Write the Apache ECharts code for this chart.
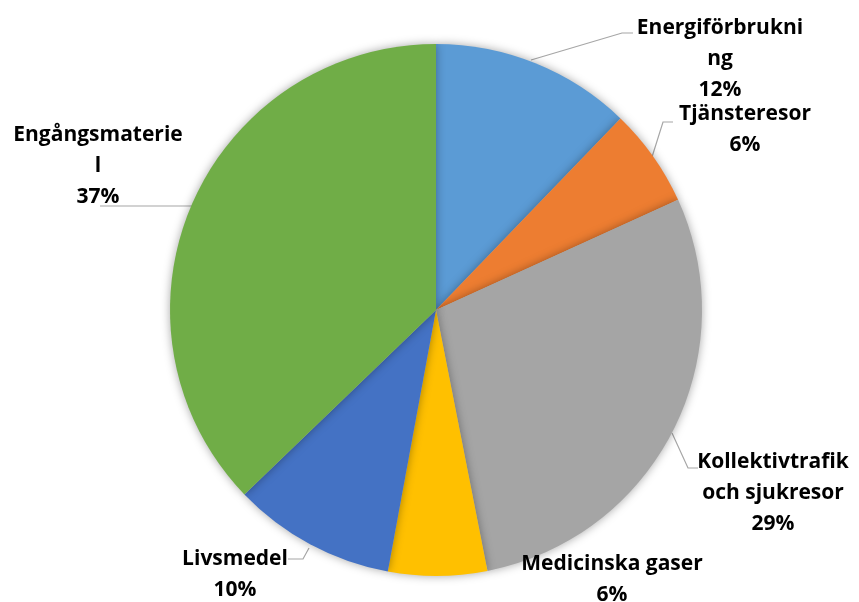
<!DOCTYPE html>
<html><head><meta charset="utf-8">
<script src="https://cdn.jsdelivr.net/npm/echarts@6/dist/echarts.min.js"></script>
<style>html,body{margin:0;padding:0;background:#fff}#c{width:859px;height:602px}</style>
</head><body><div id="c"></div>
<script>
const categories = ['Energiförbrukning','Tjänsteresor','Kollektivtrafik och sjukresor','Medicinska gaser','Livsmedel','Engångsmaterial'];
const labelTexts = ['Energiförbrukni\nng','Tjänsteresor','Kollektivtrafik\noch sjukresor','Medicinska gaser','Livsmedel','Engångsmaterie\nl'];
const values = [12.2, 6.0, 28.7, 6.0, 9.9, 37.2];
const colors = ['#5B9BD5','#ED7D31','#A5A5A5','#FFC000','#4472C4','#70AD47'];

// label placement (layout only)
const labelPos = [
  {x:720, y:59, line:[[531,60],[622,33],[633,33]]},
  {x:745, y:130, line:[[652,157],[663,122],[673,122]]},
  {x:773, y:493, line:[[672,433],[688,468],[698,468]]},
  {x:612, y:580, line:null},
  {x:235, y:575, line:[[309,548],[303,559],[288,559]]},
  {x:98,  y:166, line:[[192,206],[100,206]]}
];

const chart = echarts.init(document.getElementById('c'), null, {renderer:'canvas'});
chart.setOption({
  animation:false,
  series:[{
    type:'pie',
    center:[436,310],
    radius:266,
    startAngle:90,
    clockwise:true,
    data: categories.map((n,i)=>({name:n, value:values[i], itemStyle:{color:colors[i]},
      labelLine:{show: labelPos[i].line !== null}})),
    itemStyle:{borderWidth:0, shadowBlur:10, shadowColor:'rgba(0,0,0,0.35)'},
    label:{
      show:true,
      formatter: p => labelTexts[p.dataIndex] + '\n' + Math.round(p.percent) + '%',
      fontFamily:'Open Sans',
      fontWeight:'bold',
      fontSize:21,
      lineHeight:31,
      color:'#000',
      align:'center',
      overflow:'none',
      width:300
    },
    labelLine:{show:true, lineStyle:{color:'#A6A6A6', width:1.2}},
    labelLayout: function(params){
      const p = labelPos[params.dataIndex];
      const r = {x:p.x, y:p.y, align:'center', verticalAlign:'middle'};
      if (p.line) r.labelLinePoints = p.line;
      return r;
    }
  }]
});
</script></body></html>
